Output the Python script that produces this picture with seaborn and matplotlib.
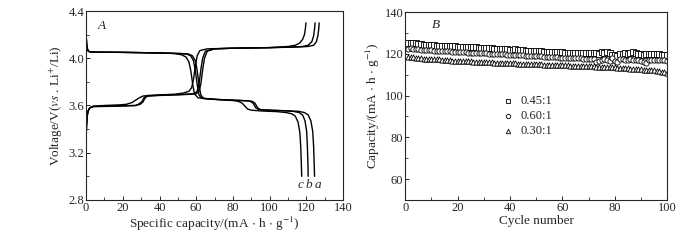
import numpy as np
import pandas as pd
import seaborn as sns
import matplotlib
matplotlib.use("Agg")
import matplotlib.pyplot as plt
from matplotlib.ticker import MultipleLocator

# ---- panel A: charge / discharge curves (a, b, c) ----
charge_a_x = [0, 0.2, 0.5, 1, 2, 4, 10, 20, 27, 29.5, 31, 32, 33, 34, 40, 50, 57, 60, 61.5, 62.5, 63.5, 64.5, 66, 70, 80, 100, 115, 121, 124, 125.5, 126.3, 126.8, 127]
charge_a_y = [3.30, 3.42, 3.50, 3.55, 3.58, 3.59, 3.592, 3.595, 3.60, 3.61, 3.63, 3.66, 3.675, 3.68, 3.685, 3.69, 3.695, 3.70, 3.72, 3.78, 3.90, 4.00, 4.06, 4.08, 4.085, 4.09, 4.095, 4.10, 4.11, 4.14, 4.19, 4.25, 4.30]

charge_b_x = [0, 0.2, 0.5, 1, 2, 4, 10, 20, 27, 29, 30.5, 31.5, 32.5, 34, 40, 50, 56, 59, 60.5, 61.5, 62.5, 63.5, 65, 70, 80, 100, 112, 118, 121, 123, 124, 124.5, 124.8]
charge_b_y = [3.30, 3.42, 3.50, 3.55, 3.58, 3.592, 3.595, 3.598, 3.60, 3.615, 3.635, 3.665, 3.678, 3.682, 3.687, 3.692, 3.697, 3.70, 3.72, 3.78, 3.90, 4.00, 4.06, 4.08, 4.085, 4.09, 4.095, 4.10, 4.11, 4.14, 4.19, 4.25, 4.30]

charge_c_x = [0, 0.2, 0.5, 1, 2, 4, 10, 18, 22, 25, 27, 29, 31, 34, 40, 48, 53, 56, 57.5, 58.5, 59.5, 60.5, 62, 66, 80, 100, 110, 114, 116.5, 118, 119, 119.5, 119.8]
charge_c_y = [3.30, 3.42, 3.50, 3.55, 3.58, 3.595, 3.60, 3.605, 3.61, 3.625, 3.645, 3.665, 3.68, 3.685, 3.69, 3.695, 3.705, 3.72, 3.75, 3.82, 3.93, 4.02, 4.065, 4.08, 4.085, 4.09, 4.10, 4.11, 4.13, 4.16, 4.20, 4.25, 4.30]

dis_a_x = [0, 0.3, 0.7, 1.2, 2, 4, 20, 40, 52, 56, 58, 59.5, 60.5, 61.5, 62.5, 64, 70, 80, 88, 90.5, 92, 93.5, 95, 100, 110, 116, 119, 121, 122.5, 123.5, 124, 124.3, 124.5]
dis_a_y = [4.20, 4.12, 4.08, 4.06, 4.055, 4.052, 4.05, 4.045, 4.04, 4.035, 4.02, 3.98, 3.90, 3.78, 3.69, 3.66, 3.652, 3.645, 3.64, 3.635, 3.62, 3.58, 3.565, 3.56, 3.555, 3.55, 3.54, 3.52, 3.47, 3.38, 3.25, 3.10, 3.00]

dis_b_x = [0, 0.3, 0.7, 1.2, 2, 4, 20, 40, 51, 55, 57, 58.5, 59.5, 60.5, 61.5, 63, 70, 80, 87, 89.5, 91, 92.5, 94, 100, 108, 113, 116, 118, 119.3, 120.2, 120.6, 120.9, 121]
dis_b_y = [4.20, 4.12, 4.08, 4.06, 4.055, 4.052, 4.05, 4.045, 4.04, 4.035, 4.02, 3.98, 3.90, 3.78, 3.69, 3.66, 3.652, 3.645, 3.64, 3.635, 3.62, 3.58, 3.565, 3.56, 3.555, 3.55, 3.54, 3.52, 3.47, 3.38, 3.25, 3.10, 3.00]

dis_c_x = [0, 0.3, 0.7, 1.2, 2, 4, 20, 40, 48, 52, 54.5, 56, 57, 58, 59, 61, 70, 80, 83, 85, 86.5, 88, 90, 96, 104, 109, 112, 114, 115.5, 116.5, 117, 117.3, 117.5]
dis_c_y = [4.20, 4.12, 4.08, 4.06, 4.055, 4.052, 4.05, 4.045, 4.04, 4.03, 4.01, 3.97, 3.90, 3.79, 3.70, 3.665, 3.652, 3.642, 3.635, 3.62, 3.595, 3.57, 3.56, 3.553, 3.548, 3.54, 3.53, 3.51, 3.46, 3.37, 3.24, 3.10, 3.00]

curve_labels = ["a", "b", "c"]
curve_label_x = [126.3, 121.5, 116.7]

# ---- panel B: cycling performance ----
cycles = list(range(1, 101))
cap_045 = [125.0, 125.2, 125.1, 125.0, 124.9, 124.5, 124.3, 124.2, 124.1, 124.0,
           124.0, 123.9, 123.9, 123.8, 123.8, 123.7, 123.7, 123.6, 123.5, 123.4,
           123.4, 123.3, 123.3, 123.2, 123.1, 123.0, 123.0, 122.9, 122.8, 122.8,
           122.7, 122.6, 122.6, 122.5, 122.4, 122.3, 122.3, 122.2, 122.1, 122.0,
           122.0, 122.3, 121.8, 121.7, 121.6, 121.5, 121.5, 121.4, 121.3, 121.2,
           121.2, 121.1, 121.0, 121.0, 120.9, 120.9, 120.8, 120.8, 120.7, 120.7,
           120.6, 120.6, 120.5, 120.5, 120.5, 120.4, 120.4, 120.3, 120.3, 120.3,
           120.2, 120.2, 120.2, 120.1, 120.8, 120.3, 121.0, 120.6, 119.5, 119.2,
           118.8, 119.8, 120.0, 120.2, 120.0, 120.3, 121.0, 120.5, 119.8, 120.0,
           119.5, 119.8, 119.9, 119.8, 119.8, 119.7, 119.7, 119.6, 119.6, 119.5]
cap_060 = [122.5, 122.6, 122.5, 122.3, 122.2, 122.0, 121.9, 121.8, 121.7, 121.6,
           121.5, 121.5, 121.4, 121.3, 121.3, 121.2, 121.1, 121.0, 121.0, 120.9,
           120.8, 120.8, 120.7, 120.6, 120.6, 120.5, 120.4, 120.4, 120.3, 120.2,
           120.2, 120.1, 120.0, 120.0, 119.9, 119.8, 119.8, 119.7, 119.6, 119.5,
           119.5, 119.4, 119.3, 119.3, 119.2, 119.1, 119.0, 119.0, 118.9, 118.8,
           118.8, 118.7, 118.6, 118.6, 118.5, 118.4, 118.4, 118.3, 118.2, 118.2,
           118.1, 118.0, 118.0, 117.9, 117.9, 117.8, 117.8, 117.7, 117.6, 117.6,
           117.5, 117.5, 116.0, 116.5, 117.0, 117.5, 117.0, 116.5, 117.8, 116.5,
           116.0, 117.5, 117.3, 117.2, 117.0, 117.4, 117.2, 117.0, 116.8, 116.5,
           116.0, 115.8, 116.8, 117.0, 117.0, 116.9, 116.9, 116.8, 116.8, 116.7]
cap_030 = [118.5, 118.4, 118.3, 118.2, 118.0, 117.8, 117.7, 117.6, 117.6, 117.5,
           117.4, 117.4, 117.3, 117.2, 117.1, 116.9, 116.8, 116.7, 116.6, 116.5,
           116.5, 116.4, 116.4, 116.3, 116.3, 116.2, 116.2, 116.1, 116.1, 116.0,
           116.0, 115.9, 115.9, 115.8, 115.8, 115.7, 115.7, 115.6, 115.5, 115.5,
           115.4, 115.4, 115.3, 115.3, 115.2, 115.2, 115.1, 115.1, 115.0, 115.0,
           114.9, 114.9, 114.8, 114.8, 114.7, 114.7, 114.6, 114.6, 114.5, 114.5,
           114.4, 114.4, 114.3, 114.3, 114.2, 114.2, 114.1, 114.1, 114.0, 114.0,
           113.9, 113.9, 113.8, 113.8, 113.7, 113.7, 113.6, 113.6, 113.5, 113.5,
           113.4, 113.3, 113.2, 113.1, 113.0, 112.9, 112.8, 112.7, 112.6, 112.5,
           112.4, 112.3, 112.2, 112.1, 112.0, 111.8, 111.6, 111.4, 111.2, 111.0]
ratio_labels = ["0.45:1", "0.60:1", "0.30:1"]
ratio_markers = ["s", "o", "^"]

sns.set_theme(style="ticks")
plt.rcParams["font.family"] = ["Liberation Serif", "DejaVu Serif"]
plt.rcParams["mathtext.fontset"] = "stix"
plt.rcParams["xtick.direction"] = "in"
plt.rcParams["ytick.direction"] = "in"
plt.rcParams["axes.linewidth"] = 0.8

fig = plt.figure(figsize=(7, 2.4), dpi=100)
ax1 = fig.add_axes([0.123, 0.167, 0.367, 0.787])
ax2 = fig.add_axes([0.579, 0.167, 0.374, 0.783])

# ==========================================
# PANEL A
# ==========================================
curves = [(charge_a_x, charge_a_y), (charge_b_x, charge_b_y), (charge_c_x, charge_c_y),
          (dis_a_x, dis_a_y), (dis_b_x, dis_b_y), (dis_c_x, dis_c_y)]
for xs, ys in curves:
    sns.lineplot(x=xs, y=ys, sort=False, estimator=None, color="black", lw=1.0, ax=ax1)

for lab, lx in zip(curve_labels, curve_label_x):
    ax1.text(lx, 2.93, lab, style="italic", fontsize=9.5, ha="center", va="center")
ax1.text(0.047, 0.92, "A", transform=ax1.transAxes, style="italic", fontsize=9.5, va="center")

ax1.set_xlim(0, 140)
ax1.set_ylim(2.8, 4.4)
ax1.xaxis.set_major_locator(MultipleLocator(20))
ax1.xaxis.set_minor_locator(MultipleLocator(10))
ax1.yaxis.set_major_locator(MultipleLocator(0.4))
ax1.yaxis.set_minor_locator(MultipleLocator(0.2))
ax1.yaxis.set_major_formatter(plt.FormatStrFormatter("%.1f"))
ax1.set_xlabel(r"Specific capacity/(mA $\cdot$ h $\cdot$ g$^{-1}$)", fontsize=9.5, labelpad=1)
ax1.set_ylabel(r"Voltage/V($vs$ . Li$^{+}$/Li)", fontsize=9.5, labelpad=2)

# ==========================================
# PANEL B
# ==========================================
for vals, lab, m in zip([cap_045, cap_060, cap_030], ratio_labels, ratio_markers):
    sns.scatterplot(x=cycles, y=vals, marker=m, s=14, facecolor="white",
                    edgecolor="black", linewidth=0.6, label=lab, ax=ax2)

ax2.text(0.10, 0.93, "B", transform=ax2.transAxes, style="italic", fontsize=9.5, va="center")
ax2.legend(frameon=False, loc="upper left", bbox_to_anchor=(0.35, 0.585),
           handletextpad=0.5, handlelength=1.0, labelspacing=0.25, fontsize=9,
           markerscale=0.85, borderaxespad=0)

ax2.set_xlim(0, 100)
ax2.set_ylim(50, 140)
ax2.xaxis.set_major_locator(MultipleLocator(20))
ax2.xaxis.set_minor_locator(MultipleLocator(10))
ax2.yaxis.set_major_locator(MultipleLocator(20))
ax2.yaxis.set_minor_locator(MultipleLocator(10))
ax2.set_yticks([60, 80, 100, 120, 140])
ax2.set_xlabel("Cycle number", fontsize=9.5, labelpad=1)
ax2.set_ylabel(r"Capacity/(mA $\cdot$ h $\cdot$ g$^{-1}$)", fontsize=9.5, labelpad=2)

for ax in (ax1, ax2):
    ax.tick_params(which="major", length=3, width=0.7, labelsize=9, pad=1.5)
    ax.tick_params(which="minor", length=2, width=0.6)
    for s in ax.spines.values():
        s.set_visible(True)

plt.savefig("out.png", dpi=100)
plt.close()
